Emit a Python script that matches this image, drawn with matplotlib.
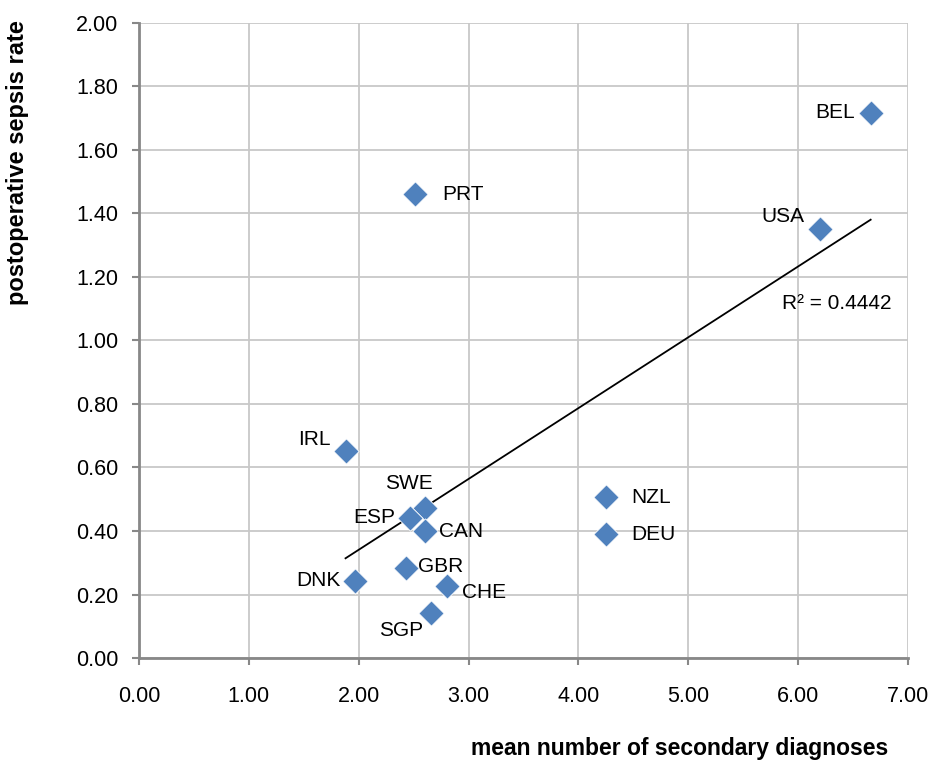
import numpy as np
import matplotlib.pyplot as plt

plt.rcParams['font.family'] = ['Liberation Sans', 'DejaVu Sans']

countries = ['BEL', 'USA', 'PRT', 'IRL', 'SWE', 'ESP', 'CAN', 'NZL', 'DEU', 'GBR', 'DNK', 'CHE', 'SGP']
diagnoses = [6.66, 6.20, 2.51, 1.88, 2.60, 2.47, 2.60, 4.25, 4.25, 2.43, 1.97, 2.80, 2.66]
sepsis = [1.717, 1.351, 1.461, 0.652, 0.472, 0.441, 0.400, 0.507, 0.390, 0.283, 0.243, 0.227, 0.142]

# label placement (offset in points, alignment)
label_pos = {
    'BEL': ((-11, 0), 'right', 'center'),
    'USA': ((-11, 9), 'right', 'center'),
    'PRT': ((20, 0), 'left', 'center'),
    'IRL': ((-11, 8), 'right', 'center'),
    'SWE': ((-11, 18), 'center', 'center'),
    'ESP': ((-11, 0), 'right', 'center'),
    'CAN': ((10, 0), 'left', 'center'),
    'NZL': ((18, 0), 'left', 'center'),
    'DEU': ((18, 0), 'left', 'center'),
    'GBR': ((9, 1), 'left', 'center'),
    'DNK': ((-11, 0), 'right', 'center'),
    'CHE': ((11, -5), 'left', 'center'),
    'SGP': ((-22, -13), 'center', 'center'),
}

fig = plt.figure(figsize=(9.31, 7.63), dpi=100)
ax = fig.add_axes([0.1493, 0.1376, 0.826, 0.8323])

x = np.array(diagnoses)
y = np.array(sepsis)
ax.scatter(x, y, marker='D', s=165, color='#4F81BD', edgecolors='white', linewidths=0.6, zorder=3)

# linear trendline
slope, intercept = np.polyfit(x, y, 1)
xl = np.array([x.min(), x.max()])
ax.plot(xl, slope * xl + intercept, color='black', lw=1.3, zorder=2)
ax.text(6.35, 1.115, 'R² = 0.4442', fontsize=15, ha='center', va='center')

for c, xi, yi in zip(countries, diagnoses, sepsis):
    off, ha, va = label_pos[c]
    ax.annotate(c, (xi, yi), xytext=off, textcoords='offset points',
                ha=ha, va=va, fontsize=15)

ax.set_xlim(0, 7)
ax.set_ylim(0, 2)
xt = np.arange(0, 7.01, 1)
yt = np.arange(0, 2.01, 0.2)
ax.set_xticks(xt)
ax.set_yticks(yt)
ax.set_xticklabels([f'{v:.2f}' for v in xt])
ax.set_yticklabels([f'{v:.2f}' for v in yt])
ax.tick_params(labelsize=15.5, length=5, color='#888888', width=1.5, pad=10)
ax.tick_params(axis='x', pad=15)
ax.grid(True, color='#c8c8c8', lw=1.3)
ax.set_axisbelow(True)
for s in ['top', 'right']:
    ax.spines[s].set_visible(False)
for s in ['left', 'bottom']:
    ax.spines[s].set_color('#888888')
    ax.spines[s].set_linewidth(2)

fig.text(680 / 931, 1 - 748 / 763, 'mean number of secondary diagnoses',
         fontsize=16.5, fontweight='bold', ha='center', va='center')
fig.text(18 / 931, 1 - 163 / 763, 'postoperative sepsis rate',
         fontsize=17, fontweight='bold', ha='center', va='center', rotation=90)

fig.savefig('out.png', dpi=100)
